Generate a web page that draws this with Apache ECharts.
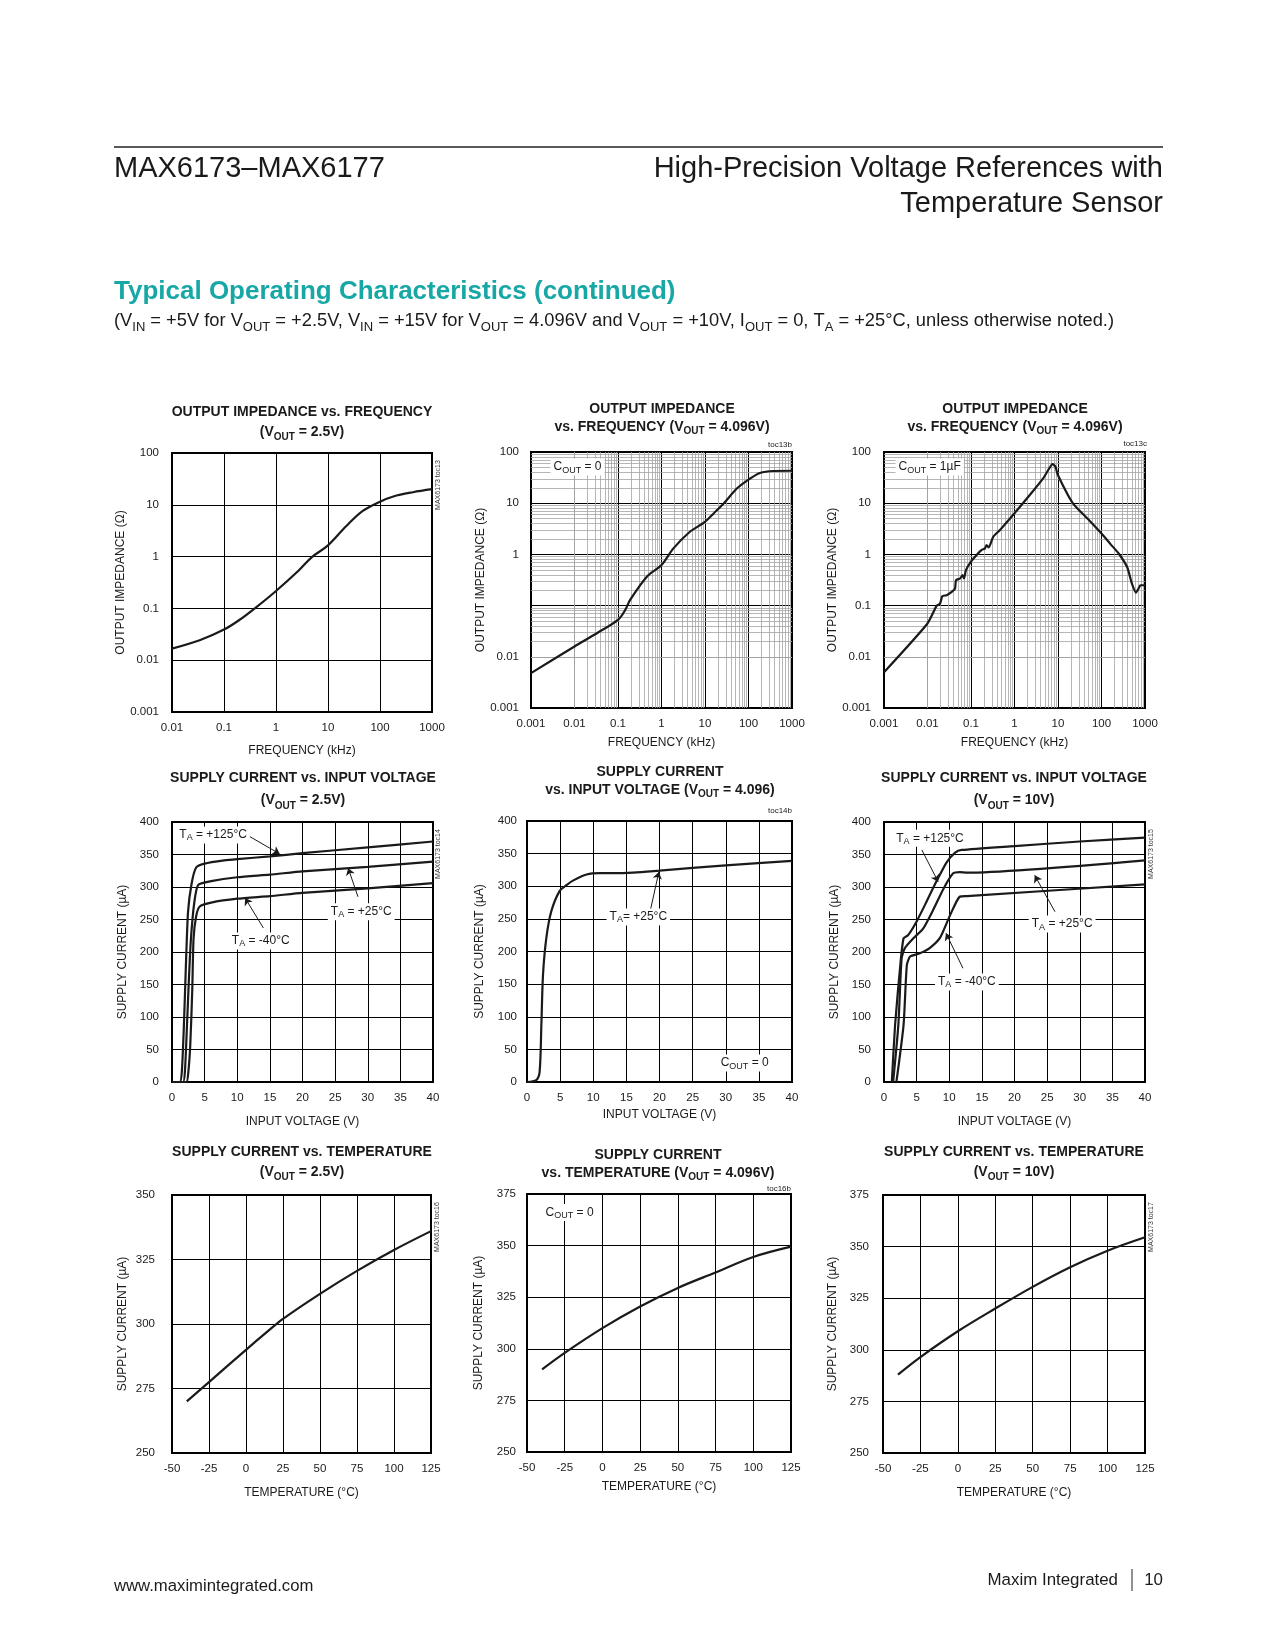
<!DOCTYPE html>
<html><head><meta charset="utf-8">
<script src="https://cdn.jsdelivr.net/npm/echarts/dist/echarts.min.js"></script>
<style>html,body{margin:0;padding:0;background:#fff}#c{width:1275px;height:1650px}</style>
</head><body><div id="c"></div>
<script>
// ---------------- DATA ----------------
// Chart 1: Output impedance vs frequency, VOUT = 2.5V
const imp25Freq = [0.01, 0.034, 0.1, 0.194, 0.42, 1, 2.73, 4.9, 10, 22, 46.6, 100, 180, 430, 1000];
const imp25Z    = [0.0167, 0.0242, 0.039, 0.059, 0.106, 0.217, 0.54, 0.98, 1.65, 3.8, 7.6, 11.5, 14.5, 17.5, 20];
// Chart 2: Output impedance vs frequency, VOUT = 4.096V, COUT = 0
const imp4Freq = [0.001, 0.01, 0.0327, 0.1, 0.147, 0.19, 0.46, 1, 1.88, 4.5, 10, 15.8, 26.8, 54, 100, 183, 372, 1000];
const imp4Z    = [0.0048, 0.0159, 0.0289, 0.0526, 0.0824, 0.129, 0.367, 0.62, 1.31, 2.77, 4.33, 6.3, 9.87, 19.3, 28.9, 39, 42.6, 43];
// Chart 3: Output impedance vs frequency, VOUT = 4.096V, COUT = 1uF
const imp4cFreq = [0.001, 0.0099, 0.0163, 0.0194, 0.0219, 0.0276, 0.036, 0.0429, 0.0452, 0.0558, 0.0643, 0.069, 0.0767, 0.1, 0.135, 0.176, 0.21, 0.229, 0.255, 0.326, 0.464, 1, 2.27, 4.6, 6, 7.5, 8.7, 10, 22, 52.6, 100, 163, 251, 390, 500, 623, 700, 785, 1000];
const imp4cZ    = [0.005, 0.0443, 0.1, 0.109, 0.152, 0.16, 0.185, 0.215, 0.314, 0.338, 0.393, 0.338, 0.493, 0.72, 0.97, 1.22, 1.31, 1.52, 1.37, 2.22, 3.0, 6.37, 14.6, 30.9, 45, 58, 52, 35, 9.9, 4.6, 2.55, 1.57, 1.03, 0.56, 0.27, 0.18, 0.21, 0.25, 0.25];
// Chart 4: Supply current vs input voltage, VOUT = 2.5V
const sc25V_125 = [0, 1.2, 1.5, 1.8, 2.1, 2.45, 3.0, 3.7, 5, 8, 10, 15, 20, 30, 40];
const sc25I_125 = [0, 0, 15, 80, 170, 261, 305, 330, 336, 341, 343, 347, 352, 361, 370];
const sc25V_25  = [0, 1.7, 2.0, 2.3, 2.6, 2.9, 3.4, 4.0, 6, 10, 15, 20, 30, 40];
const sc25I_25  = [0, 0, 20, 88, 160, 220, 275, 303, 309, 315, 319, 324, 331, 339];
const sc25V_m40 = [0, 2.2, 2.5, 2.8, 3.1, 3.3, 3.7, 4.25, 6, 10, 15, 20, 30, 40];
const sc25I_m40 = [0, 0, 15, 57, 140, 220, 255, 270, 276, 282, 286, 291, 298, 306];
// Chart 5: Supply current vs input voltage, VOUT = 4.096V
const sc4V = [0, 1.4, 1.9, 2.17, 2.42, 2.92, 3.68, 4.94, 6, 7, 9, 11, 13, 16, 20, 30, 40];
const sc4I = [0, 3, 15, 88, 165, 221, 262, 293, 302, 309, 318, 320, 320, 321, 324, 332, 339];
// Chart 6: Supply current vs input voltage, VOUT = 10V
const sc10V_125 = [1.2, 1.7, 2.5, 3, 3.7, 5, 6.5, 8, 9.6, 10.9, 11.9, 20, 30, 40];
const sc10I_125 = [0, 88, 180, 221, 226, 247, 277, 308, 338, 353, 357, 363, 370, 376];
const sc10V_25  = [1.4, 2.2, 2.7, 3.2, 4.5, 6, 7.6, 9.1, 10.6, 11.6, 12.7, 40];
const sc10I_25  = [0, 88, 190, 206, 221, 236, 266, 297, 321, 323, 322, 341];
const sc10V_m40 = [1.9, 3, 3.5, 4, 5.5, 7, 8.6, 10.1, 11.6, 12.7, 40];
const sc10I_m40 = [0, 88, 180, 193, 198, 206, 222, 256, 285, 286, 304];
// Charts 7-9: Supply current vs temperature
const tempC25 = [-40, -25, 0, 15, 25, 50, 75, 100, 125];
const tempI25 = [270, 277.5, 290, 297.3, 302, 311.7, 320.6, 328.7, 336];
const tempC4  = [-40, -25, 0, 25, 50, 75, 100, 125];
const tempI4  = [290, 298, 310, 320.5, 329.5, 337, 344.5, 349.5];
const tempC10 = [-40, -25, 0, 25, 50, 75, 100, 125];
const tempI10 = [288, 296.5, 309, 320, 330.5, 340, 348, 354.5];

// Annotations (data coordinates)
const ann4Text = ['T{s|A} = +125°C', 'T{s|A} = +25°C', 'T{s|A} = -40°C'];
const ann4Pos = [[6.3, 380], [29, 262], [13.6, 217]];
const ann4Arrows = [[[11.5, 380], [16.5, 351]], [[28.5, 285], [27, 329]], [[14, 237], [11.2, 283]]];
const ann5Text = ['T{s|A}= +25°C', 'C{s|OUT} = 0'];
const ann5Pos = [[16.8, 253], [28.7, 29]];
const ann5Arrows = [[[18.6, 262], [19.9, 322]]];
const ann6Text = ['T{s|A} = +125°C', 'T{s|A} = +25°C', 'T{s|A} = -40°C'];
const ann6Pos = [[7.05, 375], [27.3, 243], [12.7, 154]];
const ann6Arrows = [[[5.8, 357], [8.3, 308]], [[26.2, 262], [23.1, 318]], [[12.1, 175], [9.5, 229]]];
const ann2Text = ['C{s|OUT} = 0'];   const ann2Pos = [[0.00273, 50.8]];
const ann3Text = ['C{s|OUT} = 1µF']; const ann3Pos = [[0.00179, 50.8]];
const ann8Text = ['C{s|OUT} = 0'];   const ann8Pos = [[-40, 366]];

// minor log grid
const minorMult = [2, 3, 4, 5, 6, 7, 8, 9];
const decX = [0.001, 0.01, 0.1, 1, 10, 100];
const decY = [0.001, 0.01, 0.1, 1, 10];

// ---------------- STYLE / LAYOUT ----------------
const F = "'Liberation Sans',Arial,sans-serif";
const FH = "'Liberation Sans',Arial,sans-serif";
const INK = '#1a1a1a';
const grids = [
  [172, 453, 260, 259], [531, 452, 261, 256], [884, 452, 261, 256],
  [172, 822, 261, 260], [527, 821, 265, 261], [884, 822, 261, 260],
  [172, 1195, 259, 258], [527, 1194, 264, 258], [883, 1195, 262, 258]
];
function fmtLog(v, hide) {
  const e = Math.round(Math.log10(v));
  if (hide && hide.indexOf(e) >= 0) return '';
  return e >= 0 ? String(Math.pow(10, e)) : '0.' + '0'.repeat(-e - 1) + '1';
}
const nameStyle = {color: INK, fontSize: 12, fontFamily: F};
function axis(i, c) {
  const a = {
    gridIndex: i, name: c.name, nameLocation: 'middle', nameGap: c.gap, nameTextStyle: nameStyle,
    axisLine: {show: false}, axisTick: {show: false},
    axisLabel: {margin: c.margin, color: INK, fontSize: 11.5, fontFamily: F},
    splitLine: {show: true, lineStyle: {color: '#000', width: 1}}
  };
  if (c.log) {
    a.type = 'log'; a.logBase = 10; a.min = c.min; a.max = c.max; a.splitNumber = 6;
    a.axisLabel.formatter = v => fmtLog(v, c.hide);
  } else {
    a.type = 'value'; a.min = c.min; a.max = c.max; a.interval = c.interval;
  }
  return a;
}
const xAxes = [
  axis(0, {log: 1, min: 0.01, max: 1000, name: 'FREQUENCY (kHz)', gap: 33, margin: 10}),
  axis(1, {log: 1, min: 0.001, max: 1000, name: 'FREQUENCY (kHz)', gap: 29, margin: 10}),
  axis(2, {log: 1, min: 0.001, max: 1000, name: 'FREQUENCY (kHz)', gap: 29, margin: 10}),
  axis(3, {min: 0, max: 40, interval: 5, name: 'INPUT VOLTAGE (V)', gap: 34, margin: 10}),
  axis(4, {min: 0, max: 40, interval: 5, name: 'INPUT VOLTAGE (V)', gap: 27, margin: 10}),
  axis(5, {min: 0, max: 40, interval: 5, name: 'INPUT VOLTAGE (V)', gap: 34, margin: 10}),
  axis(6, {min: -50, max: 125, interval: 25, name: 'TEMPERATURE (°C)', gap: 34, margin: 10}),
  axis(7, {min: -50, max: 125, interval: 25, name: 'TEMPERATURE (°C)', gap: 29, margin: 10}),
  axis(8, {min: -50, max: 125, interval: 25, name: 'TEMPERATURE (°C)', gap: 34, margin: 10})
];
const yAxes = [
  axis(0, {log: 1, min: 0.001, max: 100, name: 'OUTPUT IMPEDANCE (Ω)', gap: 38, margin: 13}),
  axis(1, {log: 1, min: 0.001, max: 100, name: 'OUTPUT IMPEDANCE (Ω)', gap: 42, margin: 12, hide: [-1]}),
  axis(2, {log: 1, min: 0.001, max: 100, name: 'OUTPUT IMPEDANCE (Ω)', gap: 41, margin: 13}),
  axis(3, {min: 0, max: 400, interval: 50, name: 'SUPPLY CURRENT (µA)', gap: 43, margin: 13}),
  axis(4, {min: 0, max: 400, interval: 50, name: 'SUPPLY CURRENT (µA)', gap: 41, margin: 10}),
  axis(5, {min: 0, max: 400, interval: 50, name: 'SUPPLY CURRENT (µA)', gap: 43, margin: 13}),
  axis(6, {min: 250, max: 350, interval: 25, name: 'SUPPLY CURRENT (µA)', gap: 43, margin: 17}),
  axis(7, {min: 250, max: 375, interval: 25, name: 'SUPPLY CURRENT (µA)', gap: 42, margin: 11}),
  axis(8, {min: 250, max: 375, interval: 25, name: 'SUPPLY CURRENT (µA)', gap: 44, margin: 14})
];

function curve(i, xs, ys, sm) {
  return {type: 'line', xAxisIndex: i, yAxisIndex: i, data: xs.map((x, k) => [x, ys[k]]),
    symbol: 'none', showSymbol: false, smooth: sm, silent: true, z: 3,
    lineStyle: {color: INK, width: 2.2}};
}
function minor(i) {
  const d = [];
  decX.forEach(dec => minorMult.forEach(m => d.push({xAxis: +(m * dec).toPrecision(3)})));
  decY.forEach(dec => minorMult.forEach(m => d.push({yAxis: +(m * dec).toPrecision(3)})));
  return {type: 'line', xAxisIndex: i, yAxisIndex: i, data: [], z: 1, silent: true,
    markLine: {silent: true, z: 1, symbol: ['none', 'none'], label: {show: false},
      lineStyle: {color: '#a3a3a3', width: 0.8, type: 'solid'}, emphasis: {disabled: true}, data: d}};
}
const subRich = {s: {fontSize: 9, fontFamily: F, color: INK, verticalAlign: 'bottom', lineHeight: 15}};
function annot(i, texts, pos, arrows, leftAlign) {
  const s = {type: 'line', xAxisIndex: i, yAxisIndex: i, data: [], z: 4, silent: true,
    markPoint: {symbol: 'rect', symbolSize: 1, silent: true, z: 6, itemStyle: {color: 'rgba(0,0,0,0)'},
      label: {show: true, color: INK, fontSize: 12, fontFamily: F, backgroundColor: '#fff',
        padding: [1, 3], lineHeight: 15, rich: subRich},
      data: texts.map((t, k) => ({coord: pos[k],
        label: {position: (leftAlign && leftAlign[k]) ? 'right' : 'inside', distance: 0, formatter: () => t}}))}};
  if (arrows) {
    s.markLine = {silent: true, z: 5, symbol: ['none', 'arrow'], symbolSize: 7, label: {show: false},
      lineStyle: {color: INK, width: 1, type: 'solid'}, emphasis: {disabled: true},
      data: arrows.map(a => [{coord: a[0]}, {coord: a[1]}])};
  }
  return s;
}

const titleSpecs = [
  ['{b|OUTPUT IMPEDANCE vs. FREQUENCY}\n{b|(V}{s|OUT}{b| = 2.5V)}', 302, 402, 20],
  ['{b|OUTPUT IMPEDANCE}\n{b|vs. FREQUENCY (V}{s|OUT}{b| = 4.096V)}', 662, 400, 18],
  ['{b|OUTPUT IMPEDANCE}\n{b|vs. FREQUENCY (V}{s|OUT}{b| = 4.096V)}', 1015, 400, 18],
  ['{b|SUPPLY CURRENT vs. INPUT VOLTAGE}\n{b|(V}{s|OUT}{b| = 2.5V)}', 303, 767, 22],
  ['{b|SUPPLY CURRENT}\n{b|vs. INPUT VOLTAGE (V}{s|OUT}{b| = 4.096)}', 660, 763, 18],
  ['{b|SUPPLY CURRENT vs. INPUT VOLTAGE}\n{b|(V}{s|OUT}{b| = 10V)}', 1014, 767, 22],
  ['{b|SUPPLY CURRENT vs. TEMPERATURE}\n{b|(V}{s|OUT}{b| = 2.5V)}', 302, 1142, 20],
  ['{b|SUPPLY CURRENT}\n{b|vs. TEMPERATURE (V}{s|OUT}{b| = 4.096V)}', 658, 1146, 18],
  ['{b|SUPPLY CURRENT vs. TEMPERATURE}\n{b|(V}{s|OUT}{b| = 10V)}', 1014, 1142, 20]
];
const titles = titleSpecs.map(t => ({
  text: t[0], left: t[1], top: t[2], textAlign: 'center', padding: 0,
  textStyle: {rich: {
    b: {fontSize: 14, fontWeight: 'bold', fontFamily: F, color: INK, lineHeight: t[3]},
    s: {fontSize: 10, fontWeight: 'bold', fontFamily: F, color: INK, lineHeight: t[3], verticalAlign: 'bottom'}
  }}
}));

function txt(x, y, text, size, align, extra) {
  return {type: 'text', x: x, y: y, silent: true,
    style: Object.assign({text: text, fontSize: size, fontFamily: FH, fill: INK, align: align || 'left', verticalAlign: 'middle'}, extra || {})};
}
function vtxt(x, y, text) {
  return {type: 'text', x: x, y: y, rotation: Math.PI / 2, silent: true,
    style: {text: text, fontSize: 7, fontFamily: F, fill: '#333', align: 'center', verticalAlign: 'middle'}};
}
const graphics = [
  {type: 'line', silent: true, shape: {x1: 114, y1: 147, x2: 1163, y2: 147}, style: {stroke: '#222', lineWidth: 1.5}},
  txt(114, 169, 'MAX6173–MAX6177', 29),
  txt(1163, 169, 'High-Precision Voltage References with', 29, 'right'),
  txt(1163, 204, 'Temperature Sensor', 29, 'right'),
  txt(114, 292, 'Typical Operating Characteristics (continued)', 26, 'left', {fontWeight: 'bold', fill: '#17a8a6'}),
  {type: 'text', x: 114, y: 321, silent: true, style: {
    text: '(V{s|IN} = +5V for V{s|OUT} = +2.5V, V{s|IN} = +15V for V{s|OUT} = 4.096V and V{s|OUT} = +10V, I{s|OUT} = 0, T{s|A} = +25°C, unless otherwise noted.)',
    fontSize: 18.3, fontFamily: FH, fill: INK, align: 'left', verticalAlign: 'middle', lineHeight: 23,
    rich: {s: {fontSize: 13, fontFamily: FH, fill: INK, verticalAlign: 'bottom', lineHeight: 25}}}},
  txt(114, 1586, 'www.maximintegrated.com', 16.7),
  txt(1118, 1580, 'Maxim Integrated', 16.9, 'right'),
  {type: 'line', silent: true, shape: {x1: 1132, y1: 1569, x2: 1132, y2: 1591}, style: {stroke: '#222', lineWidth: 1}},
  txt(1163, 1580, '10', 16.9, 'right'),
  vtxt(438, 485, 'MAX6173 toc13'),
  vtxt(438, 854, 'MAX6173 toc14'),
  vtxt(1151, 854, 'MAX6173 toc15'),
  vtxt(437, 1227, 'MAX6173 toc16'),
  vtxt(1151, 1227, 'MAX6173 toc17'),
  txt(792, 445, 'toc13b', 8, 'right', {fontFamily: F}),
  txt(1147, 444, 'toc13c', 8, 'right', {fontFamily: F}),
  txt(792, 811, 'toc14b', 8, 'right', {fontFamily: F}),
  txt(791, 1189, 'toc16b', 8, 'right', {fontFamily: F})
];

const series = [
  minor(1), minor(2),
  curve(0, imp25Freq, imp25Z, 0.35),
  curve(1, imp4Freq, imp4Z, 0.3),
  curve(2, imp4cFreq, imp4cZ, 0.2),
  curve(3, sc25V_125, sc25I_125, 0.2), curve(3, sc25V_25, sc25I_25, 0.2), curve(3, sc25V_m40, sc25I_m40, 0.2),
  curve(4, sc4V, sc4I, 0.3),
  curve(5, sc10V_125, sc10I_125, 0.2), curve(5, sc10V_25, sc10I_25, 0.2), curve(5, sc10V_m40, sc10I_m40, 0.2),
  curve(6, tempC25, tempI25, 0.35), curve(7, tempC4, tempI4, 0.35), curve(8, tempC10, tempI10, 0.35),
  annot(1, ann2Text, ann2Pos, null, [true]),
  annot(2, ann3Text, ann3Pos, null, [true]),
  annot(3, ann4Text, ann4Pos, ann4Arrows),
  annot(4, ann5Text, ann5Pos, ann5Arrows, [false, true]),
  annot(5, ann6Text, ann6Pos, ann6Arrows),
  annot(7, ann8Text, ann8Pos, null, [true])
];

const chart = echarts.init(document.getElementById('c'), null, {renderer: 'canvas', width: 1275, height: 1650});
chart.setOption({
  animation: false,
  backgroundColor: '#fff',
  title: titles,
  grid: grids.map(g => ({left: g[0], top: g[1], width: g[2], height: g[3], show: true,
    borderColor: '#000', borderWidth: 2, backgroundColor: 'transparent', containLabel: false})),
  xAxis: xAxes,
  yAxis: yAxes,
  series: series,
  graphic: graphics
});
</script></body></html>
